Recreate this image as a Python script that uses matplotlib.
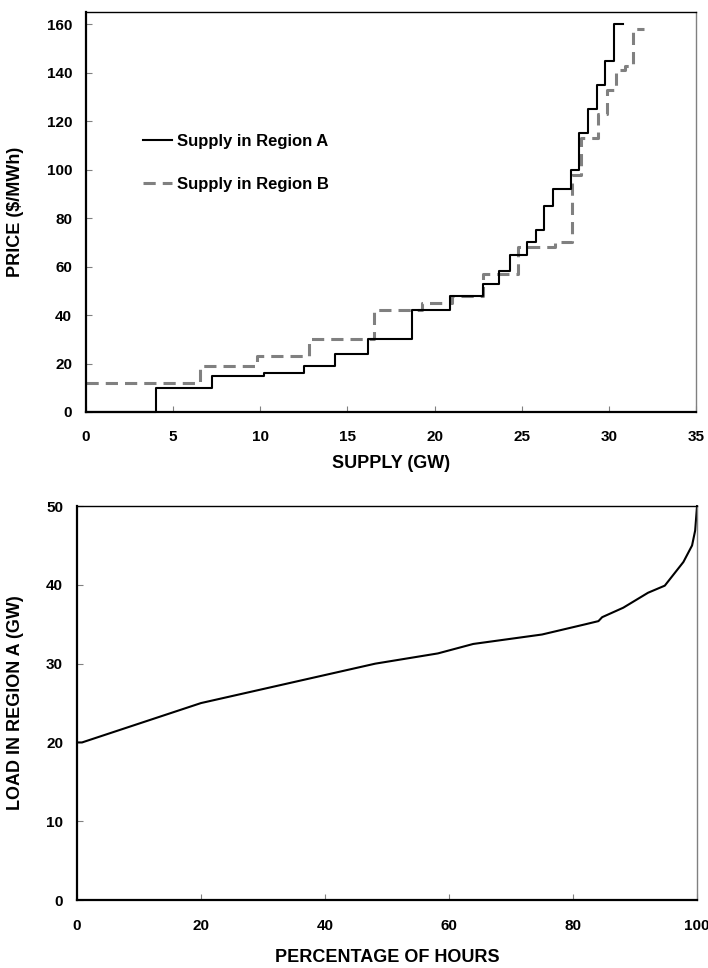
import matplotlib
matplotlib.use('Agg')
import matplotlib.pyplot as plt

plt.rcParams['font.family'] = ['Liberation Sans', 'DejaVu Sans']
plt.rcParams['font.weight'] = 'bold'
plt.rcParams['font.size'] = 11

# supply curves (step starts, price held until next step)
supply_a = [0, 4.0, 7.25, 10.2, 12.5, 14.3, 16.2, 18.7, 20.9, 22.8, 23.7, 24.3,
            25.3, 25.8, 26.3, 26.8, 27.8, 28.3, 28.8, 29.3, 29.8, 30.3, 30.8]
price_a = [0, 10, 15, 16, 19, 24, 30, 42, 48, 53, 58, 65,
           70, 75, 85, 92, 100, 115, 125, 135, 145, 160, 160]
supply_b = [0, 6.54, 9.8, 12.8, 16.5, 19.3, 21.0, 22.8, 24.8, 26.9, 27.9, 28.4,
            29.4, 29.9, 30.4, 30.9, 31.4, 32.0]
price_b = [12, 19, 23, 30, 42, 45, 48, 57, 68, 70, 98, 113,
           123, 133, 141, 143, 158, 158]

# load duration curve
pct_hours = [0, 0.8, 20, 48.1, 58.2, 63.9, 75, 82, 84.1, 84.7, 88.1, 92.1,
             94.8, 95.4, 97.8, 99.2, 99.7, 100]
load_a = [20, 20, 25, 30, 31.3, 32.5, 33.7, 35, 35.4, 35.9, 37.1, 39,
          39.9, 40.5, 42.9, 45, 46.9, 50]

gray = '#808080'

fig = plt.figure(figsize=(7.08, 9.68), dpi=100)
ax1 = fig.add_axes([0.1215, 0.5744, 0.8616, 0.4129])
ax2 = fig.add_axes([0.1088, 0.0702, 0.8757, 0.4070])


def style_axes(ax):
    ax.spines['left'].set_linewidth(1.6)
    ax.spines['bottom'].set_linewidth(1.6)
    ax.spines['top'].set_linewidth(1.0)
    ax.spines['right'].set_linewidth(1.0)
    ax.spines['right'].set_color(gray)
    ax.tick_params(direction='in', length=4, width=0.8, color=gray)
    ax.tick_params(axis='x', pad=13)
    ax.tick_params(axis='y', pad=10)


ax1.plot(supply_a, price_a, drawstyle='steps-post', color='black', lw=1.5,
         label='Supply in Region A', clip_on=False, zorder=3)
ax1.plot(supply_b, price_b, drawstyle='steps-post', color=gray, lw=2.2,
         dashes=(4, 2.3), label='Supply in Region B', clip_on=False, zorder=2)
ax1.set_xlim(0, 35)
ax1.set_ylim(0, 165)
ax1.set_xticks(range(0, 36, 5))
ax1.set_yticks(range(0, 161, 20))
style_axes(ax1)
ax1.set_xlabel('SUPPLY (GW)', fontweight='bold', fontsize=13)
ax1.set_ylabel('PRICE ($/MWh)', fontweight='bold', fontsize=13)
ax1.xaxis.set_label_coords(0.5, -0.108)
ax1.yaxis.set_label_coords(-0.102, 0.5)
ax1.legend(loc='upper left', bbox_to_anchor=(0.082, 0.712), frameon=False,
           handlelength=1.75, handletextpad=0.3, labelspacing=1.65,
           borderaxespad=0, fontsize=12)

ax2.plot(pct_hours, load_a, color='black', lw=1.5, clip_on=False)
ax2.set_xlim(0, 100)
ax2.set_ylim(0, 50)
ax2.set_xticks(range(0, 101, 20))
ax2.set_yticks(range(0, 51, 10))
style_axes(ax2)
ax2.tick_params(axis='x', pad=14)
ax2.set_xlabel('PERCENTAGE OF HOURS', fontweight='bold', fontsize=13)
ax2.set_ylabel('LOAD IN REGION A (GW)', fontweight='bold', fontsize=13)
ax2.xaxis.set_label_coords(0.5, -0.125)
ax2.yaxis.set_label_coords(-0.085, 0.5)

fig.savefig('out.png', dpi=100)
